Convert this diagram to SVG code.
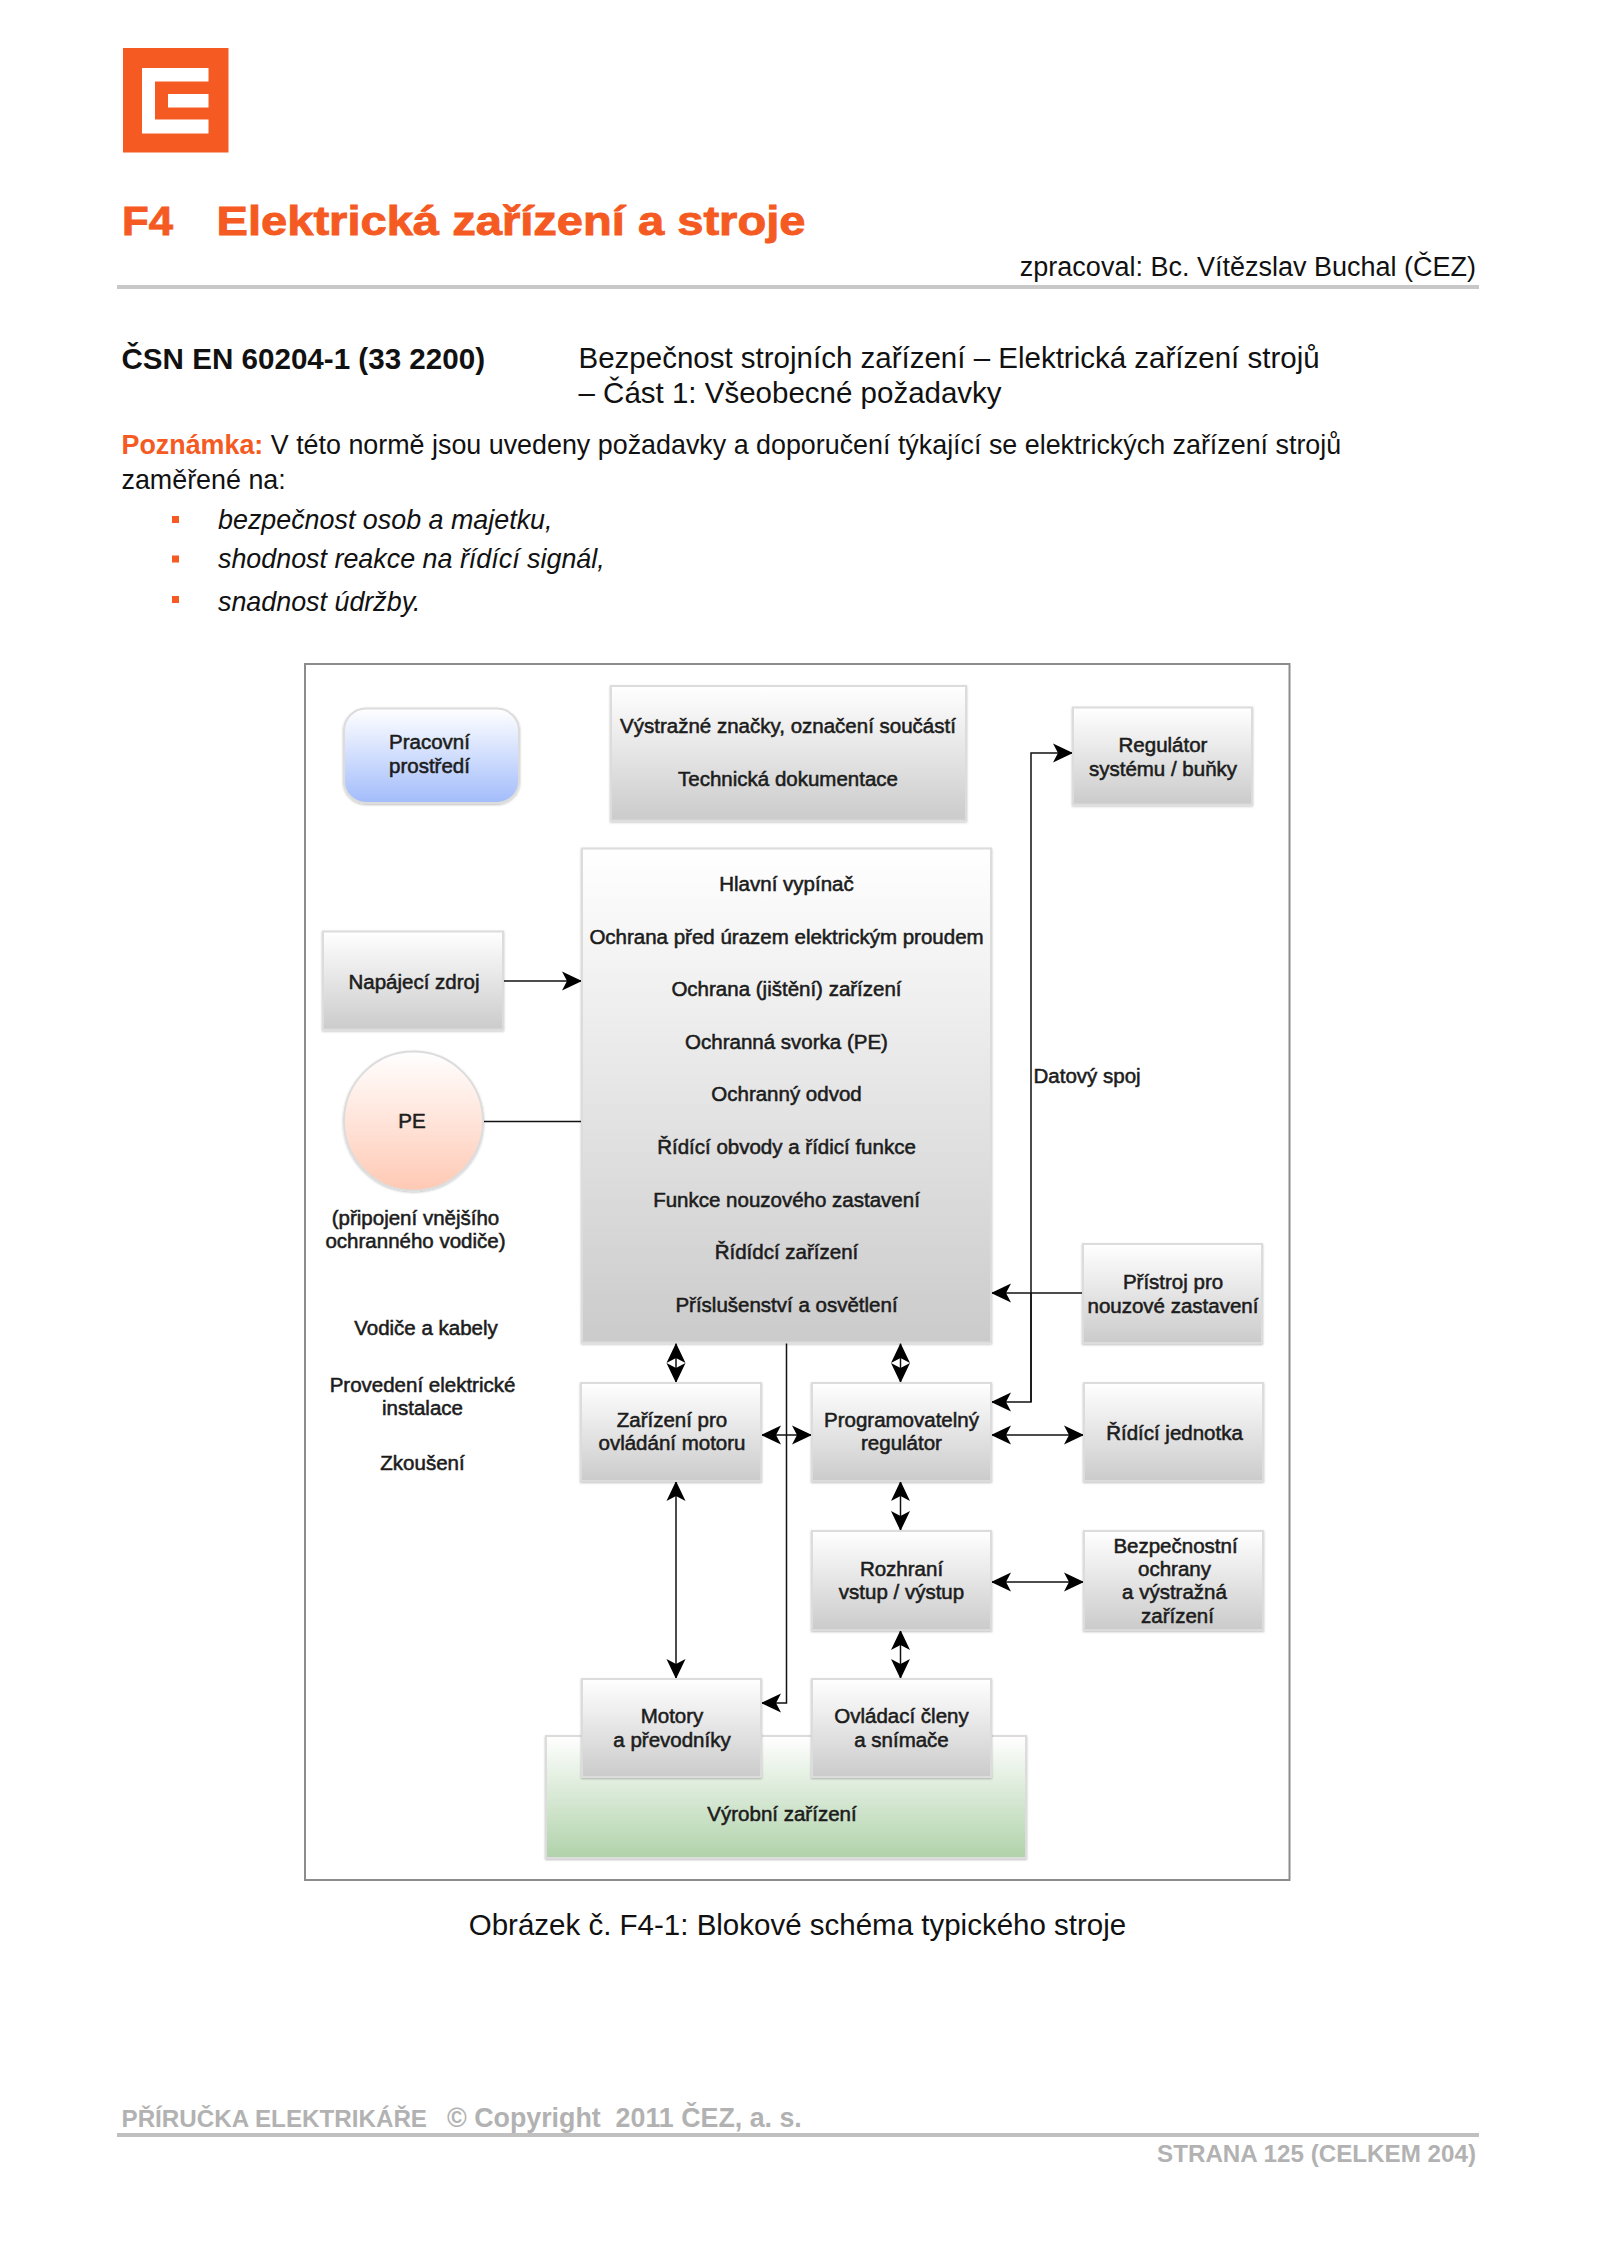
<svg xmlns="http://www.w3.org/2000/svg" width="1600" height="2262" viewBox="0 0 1600 2262">
<style>
text{font-family:"Liberation Sans",Arial,sans-serif;fill:#111}
.d{font-size:20.5px;text-anchor:middle;fill:#1c1c1c;stroke:#1c1c1c;stroke-width:.55px}
.b{stroke:#dcdcdc;stroke-width:2;filter:url(#sh)}
.g{fill:url(#gr)}
.c{fill:none;stroke:#111;stroke-width:1.5}
.two{marker-start:url(#ah);marker-end:url(#ah)}
.one{marker-end:url(#ah)}
.p{font-size:26.87px}
.o{fill:#F45A22}
.t{font-size:41px;font-weight:bold;fill:#F45A22;stroke:#F45A22;stroke-width:.9px}
.f{fill:#b2b2b2;font-weight:bold}
</style>
<defs>
<linearGradient id="gr" x1="0" y1="0" x2="0" y2="1"><stop offset="0" stop-color="#fff"/><stop offset="1" stop-color="#cbcbcb"/></linearGradient>
<linearGradient id="bl" x1="0" y1="0" x2="0" y2="1"><stop offset="0" stop-color="#fff"/><stop offset="1" stop-color="#a2bcfb"/></linearGradient>
<linearGradient id="re" x1="0" y1="0" x2="0" y2="1"><stop offset="0" stop-color="#fff"/><stop offset="1" stop-color="#ffc9b4"/></linearGradient>
<linearGradient id="gn" x1="0" y1="0" x2="0" y2="1"><stop offset="0" stop-color="#fff"/><stop offset="1" stop-color="#b0d2aa"/></linearGradient>
<filter id="sh" x="-5%" y="-5%" width="110%" height="110%"><feDropShadow dx="0" dy="1" stdDeviation="1.2" flood-color="#000" flood-opacity=".25"/></filter>
<marker id="ah" markerUnits="userSpaceOnUse" markerWidth="22" markerHeight="22" refX="20" refY="10" orient="auto-start-reverse"><path d="M0,0.500 L20,10 L0,19.500 L5,10 Z" fill="#000"/></marker>
</defs>
<rect width="1600" height="2262" fill="#fff"/>
<g id="logo"><rect x="123" y="48" width="105.500" height="104.500" class="o"/><path d="M142,68H208.500V81.500H155V119.500H208.500V133.500H142Z" fill="#fff"/><rect x="168" y="94" width="40.500" height="13.500" fill="#fff"/></g>
<g id="page-head">
<text x="122" y="235" class="t" textLength="51" lengthAdjust="spacingAndGlyphs">F4</text>
<text x="216.500" y="235" class="t" textLength="589" lengthAdjust="spacingAndGlyphs">Elektrická zařízení a stroje</text>
<text x="1476" y="276" font-size="27" text-anchor="end">zpracoval: Bc. Vítězslav Buchal (ČEZ)</text>
<rect x="117" y="285" width="1362" height="4" fill="#c8c8c8"/>
<text x="121.500" y="369" font-size="29.600" font-weight="bold">ČSN EN 60204-1 (33 2200)</text>
<text x="578.500" y="368" font-size="29.500">Bezpečnost strojních zařízení – Elektrická zařízení strojů</text>
<text x="578.500" y="403" font-size="29.500">– Část 1: Všeobecné požadavky</text>
<text x="121.500" y="454" class="p"><tspan font-weight="bold" style="fill:#F45A22">Poznámka:</tspan> V této normě jsou uvedeny požadavky a doporučení týkající se elektrických zařízení strojů</text>
<text x="121.500" y="489" class="p">zaměřené na:</text>
<rect x="172" y="516" width="7" height="7" class="o"/><rect x="172" y="555.500" width="7" height="7" class="o"/><rect x="172" y="596" width="7" height="7" class="o"/>
<text x="218" y="529" class="p" font-style="italic">bezpečnost osob a majetku,</text>
<text x="218" y="568" class="p" font-style="italic">shodnost reakce na řídící signál,</text>
<text x="218" y="610.500" class="p" font-style="italic">snadnost údržby.</text>
</g>
<rect id="frame" x="305" y="664" width="984.500" height="1216" fill="#fff" stroke="#8c8c8c" stroke-width="2"/>
<g id="vyrobni"><rect x="546" y="1736" width="480" height="122" fill="url(#gn)" class="b"/><text x="782" y="1821" class="d">Výrobní zařízení</text></g>
<g id="connectors">
<path class="c one" d="M503,981H582"/>
<path class="c" d="M483,1121.500H582"/>
<path class="c one" d="M1082,1293H991"/>
<path class="c one" d="M1031,1402V753H1073"/>
<path class="c one" d="M1031,1293V1402H991"/>
<path class="c one" d="M786.500,1343V1703H761"/>
<path class="c two" d="M676,1343V1383"/>
<path class="c two" d="M900.500,1343V1383"/>
<path class="c two" d="M761,1435H812"/>
<path class="c two" d="M991,1435H1084"/>
<path class="c two" d="M676,1481V1679"/>
<path class="c two" d="M900.500,1481V1531"/>
<path class="c two" d="M991,1582H1084"/>
<path class="c two" d="M900.500,1630V1679"/>
</g>
<g id="pracovni"><rect x="344" y="708.500" width="175" height="94.500" rx="22" fill="url(#bl)" class="b"/><text x="429.500" y="749" class="d">Pracovní</text><text x="429.500" y="773" class="d">prostředí</text></g>
<g id="vystrazne"><rect x="611" y="686" width="355" height="134.500" class="b g"/><text x="788" y="733" class="d">Výstražné značky, označení součástí</text><text x="788" y="786" class="d">Technická dokumentace</text></g>
<g id="regulator"><rect x="1073" y="707.500" width="179" height="97" class="b g"/><text x="1163" y="752" class="d">Regulátor</text><text x="1163" y="776" class="d">systému / buňky</text></g>
<g id="hlavni"><rect x="582" y="848.500" width="409" height="494" class="b g"/>
<text x="786.500" y="891" class="d">Hlavní vypínač</text>
<text x="786.500" y="944" class="d">Ochrana před úrazem elektrickým proudem</text>
<text x="786.500" y="996" class="d">Ochrana (jištění) zařízení</text>
<text x="786.500" y="1049" class="d">Ochranná svorka (PE)</text>
<text x="786.500" y="1101" class="d">Ochranný odvod</text>
<text x="786.500" y="1154" class="d">Řídící obvody a řídicí funkce</text>
<text x="786.500" y="1207" class="d">Funkce nouzového zastavení</text>
<text x="786.500" y="1259" class="d">Řídídcí zařízení</text>
<text x="786.500" y="1312" class="d">Příslušenství a osvětlení</text></g>
<g id="napajeci"><rect x="323" y="931.500" width="180" height="98" class="b g"/><text x="414" y="988.500" class="d">Napájecí zdroj</text></g>
<g id="pe"><circle cx="413.500" cy="1121" r="69.500" fill="url(#re)" class="b"/><text x="412" y="1128" class="d">PE</text></g>
<g id="pe-note"><text x="415.500" y="1224.500" class="d">(připojení vnějšího</text><text x="415.500" y="1247.500" class="d">ochranného vodiče)</text></g>
<g id="notes"><text x="426" y="1335" class="d">Vodiče a kabely</text><text x="422.500" y="1392" class="d">Provedení elektrické</text><text x="422.500" y="1415" class="d">instalace</text><text x="422.500" y="1470" class="d">Zkoušení</text></g>
<text x="1033.500" y="1083" class="d" style="text-anchor:start">Datový spoj</text>
<g id="pristroj"><rect x="1083" y="1244" width="179" height="99" class="b g"/><text x="1173" y="1289" class="d">Přístroj pro</text><text x="1173" y="1312.500" class="d">nouzové zastavení</text></g>
<g id="zarizeni"><rect x="581" y="1383" width="180" height="98" class="b g"/><text x="672" y="1427" class="d">Zařízení pro</text><text x="672" y="1450" class="d">ovládání motoru</text></g>
<g id="program"><rect x="812" y="1383" width="179" height="98" class="b g"/><text x="901.500" y="1427" class="d">Programovatelný</text><text x="901.500" y="1450" class="d">regulátor</text></g>
<g id="ridici"><rect x="1084" y="1383" width="179" height="98" class="b g"/><text x="1174.500" y="1440" class="d">Řídící jednotka</text></g>
<g id="rozhrani"><rect x="812" y="1531" width="179" height="99" class="b g"/><text x="901.500" y="1575.500" class="d">Rozhraní</text><text x="901.500" y="1599" class="d">vstup / výstup</text></g>
<g id="bezpecnostni"><rect x="1084" y="1531" width="179" height="99" class="b g"/><text x="1175.500" y="1553" class="d">Bezpečnostní</text><text x="1174.500" y="1576" class="d">ochrany</text><text x="1174.500" y="1599" class="d">a výstražná</text><text x="1177.500" y="1623" class="d">zařízení</text></g>
<g id="motory"><rect x="582" y="1679" width="179" height="98" class="b g"/><text x="672" y="1722.500" class="d">Motory</text><text x="672" y="1746.500" class="d">a převodníky</text></g>
<g id="ovladaci"><rect x="812" y="1679" width="179" height="98" class="b g"/><text x="901.500" y="1722.500" class="d">Ovládací členy</text><text x="901.500" y="1746.500" class="d">a snímače</text></g>
<text x="797.500" y="1934.500" font-size="29.500" text-anchor="middle">Obrázek č. F4-1: Blokové schéma typického stroje</text>
<g id="footer">
<text x="121.500" y="2127" font-size="24.200" class="f">PŘÍRUČKA ELEKTRIKÁŘE</text>
<text x="447" y="2127" font-size="26.800" class="f" xml:space="preserve">© Copyright  2011 ČEZ, a. s.</text>
<rect x="117" y="2133" width="1362" height="4" fill="#c0c0c0"/>
<text x="1476" y="2161.500" font-size="24.200" class="f" text-anchor="end">STRANA 125 (CELKEM 204)</text>
</g>
</svg>
